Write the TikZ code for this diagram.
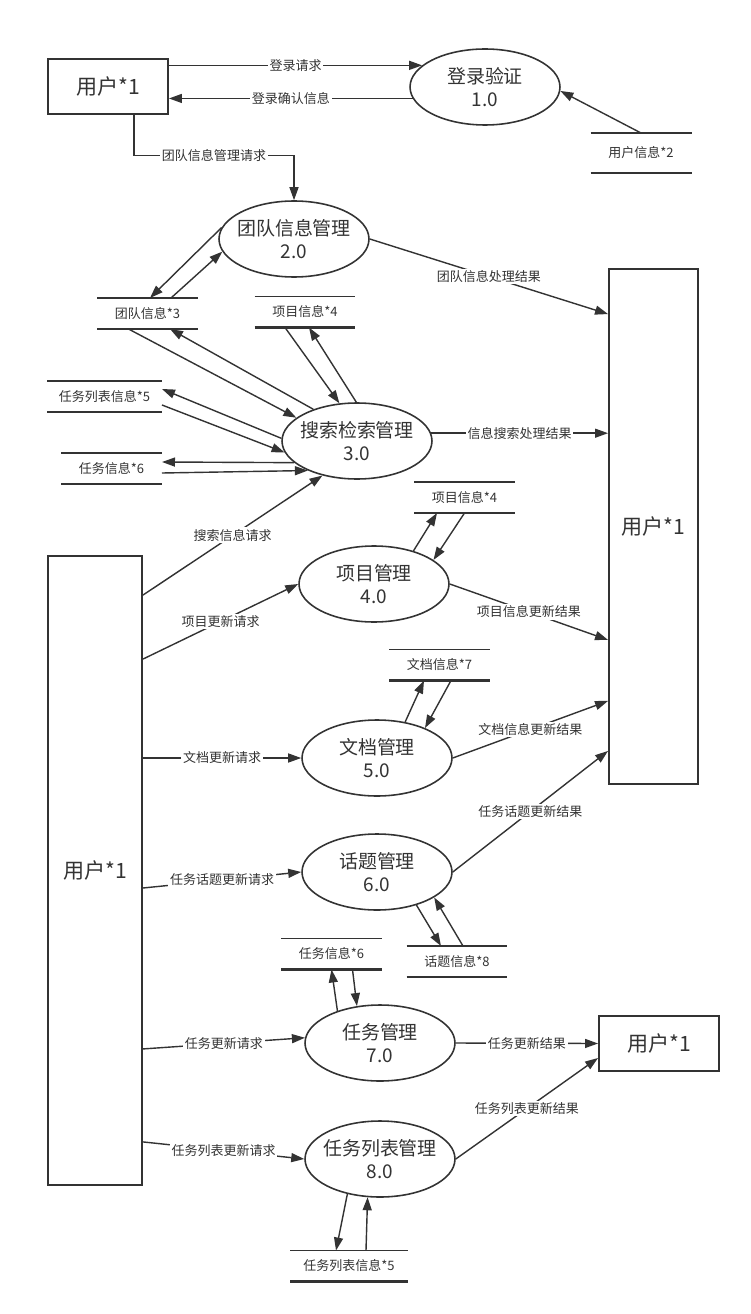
\documentclass[tikz,border=0pt]{standalone}
\usepackage{fontspec}
\setmainfont{Noto Sans CJK SC}
\usepackage{tikz}
\usetikzlibrary{arrows.meta,shapes.geometric,positioning}
\definecolor{ink}{HTML}{333333}
\tikzstyle{extentity}=[draw,rectangle,line width=1.1pt,inner sep=0pt,font=\fontsize{12}{14}\selectfont]
\tikzstyle{procnode}=[draw,ellipse,line width=0.9pt,minimum width=3cm,minimum height=1.52cm,inner xsep=-6pt,inner ysep=0pt,align=center,font=\fontsize{10.8}{13}\selectfont]
\tikzstyle{datastore}=[rectangle,inner sep=0pt,outer sep=0pt,minimum width=2.02cm,minimum height=0.62cm,font=\fontsize{7.4}{9}\selectfont]
\tikzstyle{flowlabel}=[fill=white,inner sep=1pt,font=\fontsize{7.4}{9}\selectfont]
\tikzstyle{flow}=[->,line width=0.8pt]

\begin{document}
\begin{tikzpicture}[x=0.02cm,y=-0.02cm,color=ink,>={Triangle[length=0.26cm,width=0.18cm]}]
    \useasboundingbox (0,0) rectangle (750,1314);
    % users
    \node[extentity,minimum width=2.4cm,minimum height=1.1cm] (u1) at (108,86.5) {用户*1};
    \node[extentity,minimum width=1.78cm,minimum height=10.3cm] (u2) at (653.5,526.5) {用户*1};
    \node[extentity,minimum width=1.88cm,minimum height=12.58cm] (u3) at (95,870.5) {用户*1};
    \node[extentity,minimum width=2.4cm,minimum height=1.1cm] (u4) at (659,1043.5) {用户*1};
    % processes
    \node[procnode] (p1) at (485,87) {登录验证\\1.0};
    \node[procnode] (p2) at (294,239) {团队信息管理\\2.0};
    \node[procnode] (p3) at (357,441) {搜索检索管理\\3.0};
    \node[procnode] (p4) at (374,584) {项目管理\\4.0};
    \node[procnode] (p5) at (377,758) {文档管理\\5.0};
    \node[procnode] (p6) at (377,872) {话题管理\\6.0};
    \node[procnode] (p7) at (380,1043) {任务管理\\7.0};
    \node[procnode] (p8) at (380,1159) {任务列表管理\\8.0};
    % data stores
    \node[datastore,minimum height=0.8cm] (d2) at (641,153) {用户信息*2};
    \node[datastore] (d3) at (147.5,313.5) {团队信息*3};
    \node[datastore] (d4) at (305,312) {项目信息*4};
    \node[datastore,minimum width=2.3cm] (d5) at (104.5,396.5) {任务列表信息*5};
    \node[datastore] (d6) at (111.5,468.5) {任务信息*6};
    \node[datastore] (d4b) at (464.5,497.5) {项目信息*4};
    \node[datastore] (d7) at (439.5,665) {文档信息*7};
    \node[datastore] (d8) at (457,961.5) {话题信息*8};
    \node[datastore] (d6b) at (331.5,954) {任务信息*6};
    \node[datastore,minimum width=2.36cm] (d5b) at (349,1266) {任务列表信息*5};
    \foreach \s in {d2,d3,d4,d5,d6,d4b,d7,d8,d6b,d5b} {
        \draw[line width=1.1pt] (\s.north west) -- (\s.north east);
        \draw[line width=1.5pt] (\s.south west) -- (\s.south east);
    }
    % flows
    \draw[flow] (u1.east |- p1.161) -- node[flowlabel] {登录请求} (p1.161);
    \draw[flow] (p1.189) -- node[flowlabel] {登录确认信息} (u1.east |- p1.189);
    \draw[flow] (d2.north) -- (p1.-3);
    \draw[flow] ([xshift=0.52cm]u1.south) |- node[flowlabel,pos=0.75] {团队信息管理请求} ([yshift=0.9cm]p2.north) -- (p2.north);
    \draw[flow] (p2.171) -- ([xshift=0.05cm]d3.north);
    \draw[flow] ([xshift=0.47cm]d3.north) -- (p2.190);
    \draw[flow] (p2.0) -- node[flowlabel] {团队信息处理结果} ([yshift=-0.92cm]u2.north west);
    \draw[flow] ([xshift=-0.38cm]d3.south) -- (p3.159);
    \draw[flow] (p3.144) -- ([xshift=0.45cm]d3.south);
    \draw[flow] ([xshift=-0.4cm]d4.south) -- (p3.115);
    \draw[flow] (p3.91) -- ([xshift=0.08cm]d4.south);
    \draw[flow] (p3.178) -- ([yshift=0.15cm]d5.east);
    \draw[flow] ([yshift=-0.17cm]d5.east) -- (p3.189);
    \draw[flow] (p3.199) -- ([yshift=0.13cm]d6.east);
    \draw[flow] ([yshift=-0.09cm]d6.east) -- (p3.211);
    \draw[flow] (p3.6) -- node[flowlabel] {信息搜索处理结果} (u2.west |- p3.6);
    \draw[flow] ([yshift=-0.8cm]u3.north east) -- node[flowlabel] {搜索信息请求} (p3.225);
    \draw[flow] ([yshift=-2.08cm]u3.north east) -- node[flowlabel] {项目更新请求} (p4.180);
    \draw[flow] (p4.40) -- ([xshift=-0.55cm]d4b.south);
    \draw[flow] (d4b.south) -- (p4.22);
    \draw[flow] (p4.0) -- node[flowlabel] {项目信息更新结果} ([yshift=2.9cm]u2.south west);
    \draw[flow] (u3.east |- p5.west) -- node[flowlabel] {文档更新请求} (p5.west);
    \draw[flow] (p5.52) -- ([xshift=-0.31cm]d7.south);
    \draw[flow] ([xshift=0.23cm]d7.south) -- (p5.32);
    \draw[flow] (p5.east) -- node[flowlabel] {文档信息更新结果} ([yshift=1.68cm]u2.south west);
    \draw[flow] ([yshift=-0.35cm]u3.east) -- node[flowlabel] {任务话题更新请求} (p6.west);
    \draw[flow] (p6.east) -- node[flowlabel] {任务话题更新结果} ([yshift=0.68cm]u2.south west);
    \draw[flow] (p6.-40) -- ([xshift=-0.32cm]d8.north);
    \draw[flow] ([xshift=0.12cm]d8.north) -- (p6.-24);
    \draw[flow] (p7.143) -- (d6b.south);
    \draw[flow] ([xshift=0.42cm]d6b.south) -- (p7.122);
    \draw[flow] ([yshift=2.74cm]u3.south east) -- node[flowlabel] {任务更新请求} (p7.176);
    \draw[flow] (p7.east) -- node[flowlabel] {任务更新结果} (u4.west);
    \draw[flow] ([yshift=0.88cm]u3.south east) -- node[flowlabel] {任务列表更新请求} (p8.west);
    \draw[flow] (p8.east) -- node[flowlabel] {任务列表更新结果} ([yshift=0.28cm]u4.south west);
    \draw[flow] (p8.227) -- ([xshift=-0.26cm]d5b.north);
    \draw[flow] ([xshift=0.34cm]d5b.north) -- (p8.252);
\end{tikzpicture}
\end{document}
